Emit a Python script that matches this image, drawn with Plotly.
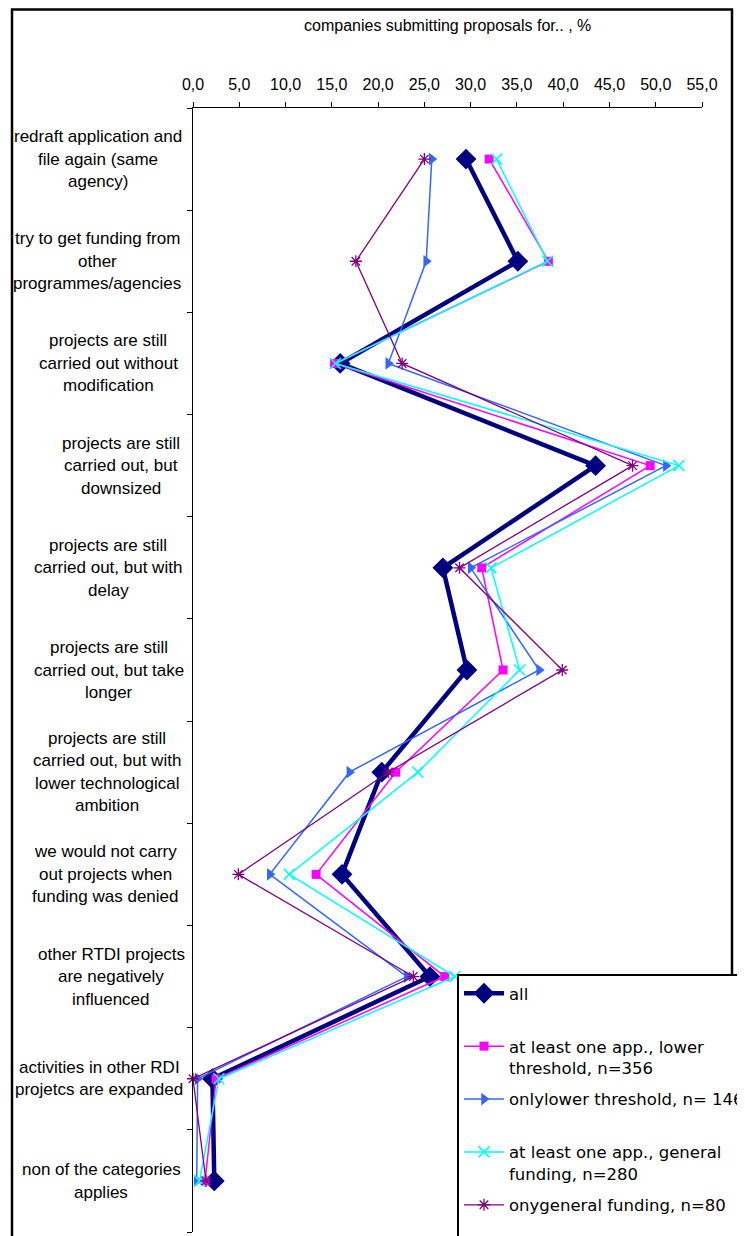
import plotly.graph_objects as go

# ---------------- data ----------------
categories = [
    "redraft application and<br>file again (same<br>agency)",
    "try to get funding from<br>other<br>programmes/agencies",
    "projects are still<br>carried out without<br>modification",
    "projects are still<br>carried out, but<br>downsized",
    "projects are still<br>carried out, but with<br>delay",
    "projects are still<br>carried out, but take<br>longer",
    "projects are still<br>carried out, but with<br>lower technological<br>ambition",
    "we would not carry<br>out projects when<br>funding was denied",
    "other RTDI projects<br>are negatively<br>influenced",
    "activities in other RDI<br>projetcs are expanded",
    "non of the categories<br>applies",
]

series_names = [
    "all",
    "at least one app., lower<br>threshold, n=356",
    "onlylower threshold, n= 146",
    "at least one app., general<br>funding, n=280",
    "onygeneral funding, n=80",
]

all_vals        = [29.5, 35.1, 15.9, 43.5, 27.0, 29.6, 20.4, 16.1, 25.6, 2.1, 2.3]
lower_vals      = [32.0, 38.4, 15.3, 49.4, 31.2, 33.5, 21.9, 13.3, 27.2, 2.5, 1.3]
onlylower_vals  = [25.8, 25.2, 21.1, 51.1, 30.0, 37.4, 16.9, 8.3, 23.1, 0.5, 0.4]
general_vals    = [32.8, 38.3, 15.4, 52.5, 32.2, 35.3, 24.3, 10.4, 28.3, 2.8, 0.7]
onygeneral_vals = [25.0, 17.6, 22.6, 47.5, 28.8, 39.9, 21.1, 4.9, 23.8, 0.0, 1.4]

x_tickvals = [0, 5, 10, 15, 20, 25, 30, 35, 40, 45, 50, 55]
x_ticktext = ["0,0", "5,0", "10,0", "15,0", "20,0", "25,0", "30,0",
              "35,0", "40,0", "45,0", "50,0", "55,0"]
axis_title = "companies submitting proposals for.. , %"

# ---------------- layout geometry (screen pixels) ----------------
W, H = 745, 1236
PAGE_OFF = 8                     # default body margin of the html page
PLOT_L, PLOT_T = 193, 108        # plot area position on screen
PW, PH = 509, 1124
L, T = PLOT_L - PAGE_OFF, PLOT_T - PAGE_OFF
R, B = W - L - PW, H - T - PH
PLOT_BOTTOM = PLOT_T + PH
label_centers_px = [98, 97, 108, 121, 108, 109, 107, 105, 111, 99, 101]
LINE_GAP = 22.5
FONT = "Liberation Sans, Arial, sans-serif"


def px_x(px):
    return (px - PLOT_L) / PW


def px_y(py):
    return (PLOT_BOTTOM - py) / PH


yidx = list(range(len(categories)))

styles = [
    dict(color="#000080", width=4.5, symbol="diamond", size=16, mline=0),
    dict(color="#FF00FF", width=1.5, symbol="square", size=9, mline=0),
    dict(color="#3366FF", width=1.5, symbol="triangle-right", size=11, mline=0),
    dict(color="#00FFFF", width=1.5, symbol="x-thin-open", size=11, mline=1.6),
    dict(color="#800080", width=1.3, symbol="asterisk-open", size=10, mline=1.3),
]
values = [all_vals, lower_vals, onlylower_vals, general_vals, onygeneral_vals]

fig = go.Figure()
for i, (name, vals, st) in enumerate(zip(series_names, values, styles)):
    legend_name = name if "<br>" in name else name + "<br> "
    fig.add_trace(go.Scatter(
        x=vals, y=yidx, name=legend_name, mode="lines+markers",
        legendgroup=f"g{i}",
        line=dict(color=st["color"], width=st["width"]),
        marker=dict(symbol=st["symbol"], size=st["size"], color=st["color"],
                    line=dict(color=st["color"], width=st["mline"])),
        cliponaxis=False,
    ))

annotations = []
for i, (lab, cx) in enumerate(zip(categories, label_centers_px)):
    lines = lab.split("<br>")
    n = len(lines)
    for j, ln in enumerate(lines):
        annotations.append(dict(
            x=px_x(cx), xref="paper", y=i, yref="y", text=ln, showarrow=False,
            xanchor="center", yanchor="middle",
            yshift=-(j - (n - 1) / 2) * LINE_GAP,
            font=dict(family=FONT, size=17, color="black"),
        ))
annotations.append(dict(
    x=0.5, xref="paper", y=px_y(26), yref="paper", text=axis_title,
    showarrow=False, xanchor="center", yanchor="middle",
    font=dict(family=FONT, size=16, color="black"),
))

shapes = [dict(
    type="rect", xref="paper", yref="paper",
    x0=px_x(12), x1=px_x(732), y0=px_y(1260), y1=px_y(9.5),
    line=dict(color="black", width=2.5), fillcolor="rgba(0,0,0,0)", layer="below",
)]

fig.update_layout(
    width=W, height=H,
    margin=dict(l=L, r=R, t=T, b=B, pad=0, autoexpand=False),
    paper_bgcolor="white", plot_bgcolor="white",
    font=dict(family=FONT, size=16, color="black"),
    showlegend=True,
    legend=dict(
        x=px_x(457), y=px_y(974), xanchor="left", yanchor="top",
        bgcolor="white", bordercolor="black", borderwidth=2,
        font=dict(family="DejaVu Sans, sans-serif", size=16.5, color="black"),
        tracegroupgap=7, valign="top", itemwidth=40,
    ),
    xaxis=dict(
        range=[0, 55], side="top", showgrid=False, zeroline=False,
        showline=True, linecolor="black", linewidth=1,
        ticks="outside", ticklen=5, tickcolor="black", tickwidth=1,
        tickvals=x_tickvals, ticktext=x_ticktext,
        tickfont=dict(family=FONT, size=16, color="black"),
        ticklabelstandoff=6, fixedrange=True,
    ),
    yaxis=dict(
        range=[10.5, -0.5], showgrid=False, zeroline=False,
        showline=True, linecolor="black", linewidth=1,
        ticks="outside", ticklen=5, tickcolor="black", tickwidth=1,
        tickvals=[k - 0.5 for k in range(len(categories) + 1)],
        showticklabels=False, fixedrange=True,
    ),
    annotations=annotations,
    shapes=shapes,
)

fig.write_html("out.html")
